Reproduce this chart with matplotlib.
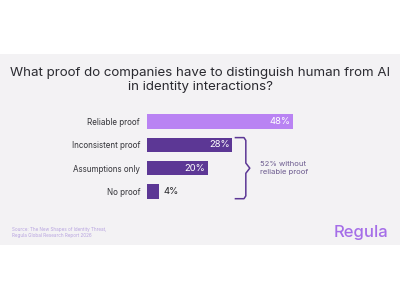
import matplotlib.pyplot as plt
from matplotlib.patches import Rectangle

categories = ['Reliable proof', 'Inconsistent proof', 'Assumptions only', 'No proof']
values = [48, 28, 20, 4]
bar_colors = ['#b983f3', '#5c3795', '#5c3795', '#5c3795']

title = 'What proof do companies have to distinguish human from AI\nin identity interactions?'
brace_note = '52% without\nreliable proof'
source = 'Source: The New Shapes of Identity Threat,\nRegula Global Research Report 2026'

plt.rcParams['font.family'] = ['Inter', 'DejaVu Sans']

fig = plt.figure(figsize=(4, 3), dpi=100)
fig.patch.set_facecolor('white')
fig.patches.append(Rectangle((0, 1 - 245 / 300), 1, 191 / 300, transform=fig.transFigure,
                             facecolor='#f3f2f4', edgecolor='none', zorder=-5))

fig.text(0.5, 1 - 80 / 300, title, ha='center', va='center', fontsize=9.6,
         color='#2a2a30', linespacing=1.15)

ax = fig.add_axes([147 / 400, 1 - 198.7 / 300, 244 / 400, 84.4 / 300])
ax.set_facecolor('none')
ax.set_zorder(2)
ypos = list(range(len(categories)))
ax.barh(ypos, values, height=0.62, color=bar_colors)
ax.set_xlim(0, 80)
ax.set_ylim(3.31, -0.31)
ax.set_yticks(ypos)
ax.set_yticklabels(categories, fontsize=5.8, color='#333338')
ax.tick_params(axis='y', length=0, pad=5)
ax.set_xticks([])
for s in ax.spines.values():
    s.set_visible(False)

for y, v in zip(ypos, values):
    if v >= 10:
        ax.text(v - 0.8, y, f'{v}%', ha='right', va='center', fontsize=6.8, color='white')
    else:
        ax.text(v + 1.3, y, f'{v}%', ha='left', va='center', fontsize=6.8, color='#222226')

# brace spanning the three "not reliable" bars
x0, x1, xt = 29.0, 32.4, 33.7
ytop, ybot, ymid = 0.69, 3.31, 2.0
r = 0.12
bx = [x0, x1 - 0.6, x1, x1, xt, x1, x1, x1 - 0.6, x0]
by = [ytop, ytop, ytop + r, ymid - 0.22, ymid, ymid + 0.22, ybot - r, ybot, ybot]
ax.plot(bx, by, color='#5c3795', lw=1.1, clip_on=False, solid_joinstyle='round')
ax.text(37, ymid, brace_note, ha='left', va='center', fontsize=5.5, color='#6b5a8e',
        linespacing=1.35)

fig.text(12 / 400, 1 - 232.5 / 300, source, ha='left', va='center', fontsize=3.3,
         color='#b7a3e0', linespacing=1.5)
fig.text(388 / 400, 1 - 232 / 300, 'Regula', ha='right', va='center', fontsize=12,
         color='#a56ee8', fontweight='medium')

fig.savefig('out.png', dpi=100)
